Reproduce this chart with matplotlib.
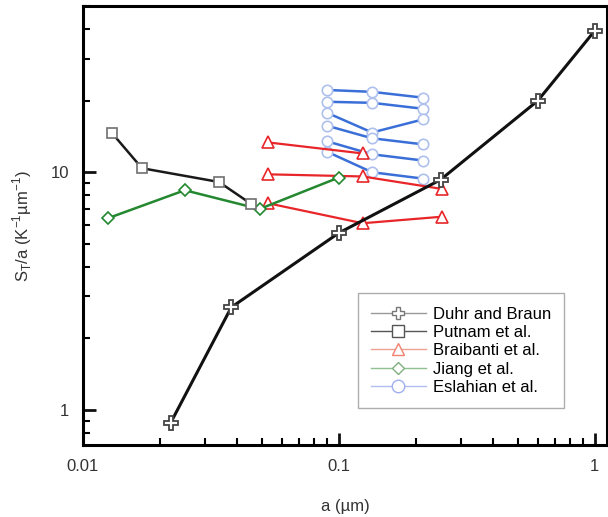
import matplotlib
matplotlib.use("Agg")
import matplotlib.pyplot as plt
from matplotlib.lines import Line2D
from matplotlib.ticker import FixedLocator, LogLocator, NullFormatter

plt.rcParams['font.family'] = ['Liberation Sans', 'DejaVu Sans']
plt.rcParams['mathtext.fontset'] = 'custom'
plt.rcParams['mathtext.rm'] = 'Liberation Sans'

# Duhr and Braun
duhr_a = [0.022, 0.038, 0.1, 0.25, 0.6, 1.0]
duhr_s = [0.88, 2.7, 5.55, 9.3, 20.0, 39.3]

# Putnam et al.
putnam_a = [0.013, 0.017, 0.034, 0.0455]
putnam_s = [14.6, 10.4, 9.1, 7.35]

# Jiang et al.
jiang_a = [0.0125, 0.025, 0.049, 0.1]
jiang_s = [6.4, 8.4, 7.0, 9.5]

# Braibanti et al. (three series)
braib_a = [[0.053, 0.124], [0.053, 0.124, 0.254], [0.053, 0.124, 0.254]]
braib_s = [[13.35, 12.0], [9.8, 9.6, 8.5], [7.4, 6.1, 6.5]]

# Eslahian et al. (six series)
esl_a = [0.09, 0.135, 0.214]
esl_s = [[22.2, 21.8, 20.6],
         [19.8, 19.6, 18.5],
         [17.8, 14.7, 16.7],
         [15.7, 13.9, 13.1],
         [13.5, 11.9, 11.2],
         [12.2, 10.0, 9.4]]

red = '#e8262a'
green = '#23882f'
blue = '#3a6fd8'
lblue = '#aec0ec'

fig = plt.figure(figsize=(6.08, 5.17), dpi=100)
ax = fig.add_axes([0.1365, 0.139, 0.862, 0.849])

for s in esl_s:
    ax.plot(esl_a, s, '-o', color=blue, lw=1.8, ms=7.5, mfc='white', mec=lblue, mew=1.2)
for a, s in zip(braib_a, braib_s):
    ax.plot(a, s, '-^', color=red, lw=1.6, ms=8.5, mfc='white', mec=red, mew=1.2)
ax.plot(jiang_a, jiang_s, '-D', color=green, lw=1.8, ms=6.5, mfc='white', mec=green, mew=1.2)
ax.plot(putnam_a, putnam_s, '-s', color='#1a1a1a', lw=1.8, ms=7.5, mfc='white', mec='#707070', mew=1.2)
ax.plot(duhr_a, duhr_s, '-P', color='#111111', lw=2.2, ms=10, mfc='white', mec='#444444', mew=1.3)

ax.set_xscale('log')
ax.set_yscale('log')
ax.set_xlim(0.01, 1.12)
ax.set_ylim(0.71, 50)

ax.xaxis.set_major_locator(FixedLocator([0.01, 0.1, 1]))
ax.set_xticklabels(['0.01', '0.1', '1'])
ax.xaxis.set_minor_locator(LogLocator(base=10, subs=range(2, 10)))
ax.xaxis.set_minor_formatter(NullFormatter())
ax.yaxis.set_major_locator(FixedLocator([1, 10]))
ax.set_yticklabels(['1', '10'])
ax.yaxis.set_minor_locator(LogLocator(base=10, subs=range(2, 10)))
ax.yaxis.set_minor_formatter(NullFormatter())

for sp in ax.spines.values():
    sp.set_linewidth(2.2)
ax.tick_params(which='major', direction='in', length=9, width=2, labelsize=12,
               pad=10, top=False, right=False, colors='#111111', labelcolor='#333333')
ax.tick_params(which='minor', direction='in', length=5, width=1.5, top=False, right=False)

ax.set_xlabel('a (µm)', fontsize=12, color='#333333', labelpad=18)
ax.set_ylabel('S$_\\mathregular{T}$/a (K$^\\mathregular{-1}$µm$^\\mathregular{-1}$)',
              fontsize=12, color='#333333', labelpad=12)

handles = [
    Line2D([], [], color='#999999', lw=1, marker='P', ms=8, mfc='white', mec='#777777'),
    Line2D([], [], color='#555555', lw=1, marker='s', ms=8, mfc='white', mec='#555555'),
    Line2D([], [], color='#f0a090', lw=1, marker='^', ms=8, mfc='white', mec='#f08070'),
    Line2D([], [], color='#90c090', lw=1, marker='D', ms=6.5, mfc='white', mec='#80b080'),
    Line2D([], [], color='#b0bff0', lw=1, marker='o', ms=9, mfc='white', mec='#a0b0f0'),
]
labels = ['Duhr and Braun', 'Putnam et al.', 'Braibanti et al.', 'Jiang et al.', 'Eslahian et al.']
leg = ax.legend(handles, labels, loc='lower right', bbox_to_anchor=(0.918, 0.084),
                fontsize=12, frameon=True, fancybox=False, edgecolor='#999999',
                handlelength=3.3, labelspacing=0.2, borderpad=0.8, handletextpad=0.4,
                borderaxespad=0)
leg.get_frame().set_linewidth(1.0)

fig.savefig('out.png', dpi=100)
